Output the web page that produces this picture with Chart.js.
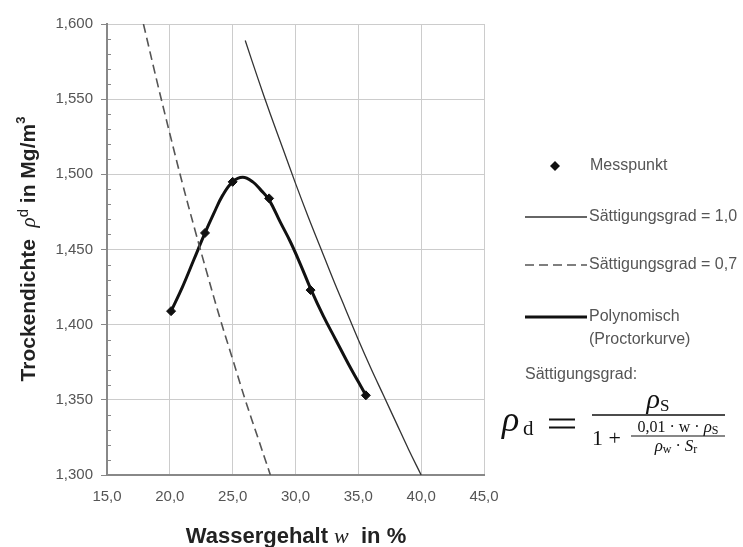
<!DOCTYPE html>
<html>
<head>
<meta charset="utf-8">
<script src="https://cdn.jsdelivr.net/npm/chart.js@4.4.0/dist/chart.umd.min.js"></script>
<style>
  body { margin: 0; background: #fff; }
  canvas { display: block; }
</style>
</head>
<body>
<canvas id="chart" width="743" height="547"></canvas>
<script>
// Messwerte (Wassergehalt in %, Trockendichte in Mg/m3)
const messW = [20.1, 22.8, 25.0, 27.9, 31.2, 35.6];
const messRho = [1.409, 1.461, 1.495, 1.484, 1.423, 1.353];

// Sättigungslinie Sr = 1,0
const satt10W = [26, 27, 28, 29, 30, 31, 32, 33, 34, 35, 36, 37, 38, 39, 40];
const satt10Rho = [1.589, 1.564, 1.540, 1.517, 1.494, 1.472, 1.451, 1.430, 1.410, 1.390, 1.371, 1.353, 1.335, 1.317, 1.300];

// Sättigungslinie Sr = 0,7
const satt07W = [17.9, 19, 20, 21, 22, 23, 24, 25, 26, 27, 28];
const satt07Rho = [1.600, 1.561, 1.527, 1.494, 1.463, 1.433, 1.404, 1.377, 1.350, 1.325, 1.300];

// Proctorkurve (Polynom)
const polyW = [20.1, 21.0, 21.9, 22.8, 23.5, 24.2, 25.0, 25.8, 26.6, 27.3, 27.9, 28.8, 29.6, 30.4, 31.2, 32.2, 33.2, 34.2, 35.0, 35.6];
const polyRho = [1.409, 1.425, 1.443, 1.461, 1.474, 1.486, 1.495, 1.498, 1.495, 1.489, 1.483, 1.468, 1.455, 1.440, 1.424, 1.406, 1.390, 1.374, 1.362, 1.353];

const legendLabels = ["Messpunkt", "Sättigungsgrad = 1,0", "Sättigungsgrad = 0,7", "Polynomisch", "(Proctorkurve)"];

function pts(xs, ys) {
  return xs.map((x, i) => ({ x: x, y: ys[i] }));
}

const SANS = "'Liberation Sans', Arial, sans-serif";
const SERIF = "'Liberation Serif', 'DejaVu Serif', serif";

// Text aus mehreren Teilen (verschiedene Schriften) zeichnen
function partsWidth(ctx, parts) {
  let w = 0;
  parts.forEach((p) => { ctx.font = p.font; w += ctx.measureText(p.t).width; });
  return w;
}
function drawParts(ctx, parts, x, y) {
  parts.forEach((p) => {
    ctx.font = p.font;
    ctx.fillText(p.t, x, y + (p.dy || 0));
    x += ctx.measureText(p.t).width;
  });
}
function drawCentered(ctx, parts, cx, y) {
  drawParts(ctx, parts, cx - partsWidth(ctx, parts) / 2, y);
}

const extras = {
  id: "extras",
  afterDraw(chart) {
    const ctx = chart.ctx;
    const y = chart.scales.y;
    ctx.save();

    // kleine Teilstriche an der y-Achse
    ctx.strokeStyle = "#888";
    ctx.lineWidth = 1;
    for (let i = 0; i <= 30; i++) {
      if (i % 5 === 0) continue;
      const py = Math.round(y.getPixelForValue(1.3 + i * 0.01)) + 0.5;
      ctx.beginPath();
      ctx.moveTo(chart.chartArea.left, py);
      ctx.lineTo(chart.chartArea.left + 4, py);
      ctx.stroke();
    }

    // Achsentitel
    ctx.fillStyle = "#222";
    ctx.textBaseline = "alphabetic";
    drawCentered(ctx, [
      { t: "Wassergehalt ", font: "bold 22px " + SANS },
      { t: "w", font: "italic 22px " + SERIF },
      { t: "  in %", font: "bold 22px " + SANS },
    ], 296, 543);

    ctx.save();
    ctx.translate(35, 249);
    ctx.rotate(-Math.PI / 2);
    drawCentered(ctx, [
      { t: "Trockendichte  ", font: "bold 21px " + SANS },
      { t: "ρ", font: "italic 21px " + SERIF },
      { t: "d", font: "15px " + SANS, dy: -7 },
      { t: " in Mg/m", font: "bold 21px " + SANS },
      { t: "3", font: "bold 13px " + SANS, dy: -10 },
    ], 0, 0);
    ctx.restore();

    // Legende
    ctx.fillStyle = "#555";
    ctx.font = "16px " + SANS;
    ctx.textBaseline = "middle";
    ctx.textAlign = "left";

    ctx.save();
    ctx.fillStyle = "#111";
    ctx.beginPath();
    ctx.moveTo(555, 161); ctx.lineTo(560, 166); ctx.lineTo(555, 171); ctx.lineTo(550, 166);
    ctx.closePath();
    ctx.fill();
    ctx.restore();
    ctx.fillText(legendLabels[0], 590, 166);

    function legLine(py, width, color, dash) {
      ctx.save();
      ctx.strokeStyle = color;
      ctx.lineWidth = width;
      ctx.setLineDash(dash);
      ctx.beginPath();
      ctx.moveTo(525, py);
      ctx.lineTo(587, py);
      ctx.stroke();
      ctx.restore();
    }
    legLine(217, 1.3, "#333", []);
    ctx.fillText(legendLabels[1], 589, 217);
    legLine(265, 1.6, "#555", [9, 5]);
    ctx.fillText(legendLabels[2], 589, 265);
    legLine(317, 3, "#111", []);
    ctx.fillText(legendLabels[3], 589, 317);
    ctx.fillText(legendLabels[4], 589, 340);
    ctx.fillText("Sättigungsgrad:", 525, 375);

    // Formel
    ctx.fillStyle = "#111";
    ctx.textBaseline = "alphabetic";
    ctx.font = "italic 36px " + SERIF;
    ctx.fillText("ρ", 502, 431);
    ctx.font = "21px " + SERIF;
    ctx.fillText("d", 523, 435);

    ctx.strokeStyle = "#111";
    ctx.lineWidth = 2.2;
    ctx.beginPath();
    ctx.moveTo(549, 419.5); ctx.lineTo(575, 419.5);
    ctx.moveTo(549, 427.5); ctx.lineTo(575, 427.5);
    ctx.stroke();

    ctx.lineWidth = 1.4;
    ctx.beginPath(); ctx.moveTo(592, 415); ctx.lineTo(725, 415); ctx.stroke();
    drawCentered(ctx, [
      { t: "ρ", font: "italic 28px " + SERIF },
      { t: "S", font: "17px " + SERIF, dy: 3 },
    ], 658, 408);

    ctx.font = "22px " + SERIF;
    ctx.fillText("1 +", 592, 445);
    ctx.lineWidth = 1.1;
    ctx.beginPath(); ctx.moveTo(631, 436); ctx.lineTo(725, 436); ctx.stroke();
    drawCentered(ctx, [
      { t: "0,01 · ", font: "16px " + SERIF },
      { t: "w", font: "16px " + SERIF },
      { t: " · ", font: "16px " + SERIF },
      { t: "ρ", font: "italic 17px " + SERIF },
      { t: "S", font: "12px " + SERIF, dy: 2 },
    ], 678, 432);
    drawCentered(ctx, [
      { t: "ρ", font: "italic 17px " + SERIF },
      { t: "w", font: "12px " + SERIF, dy: 2 },
      { t: " · ", font: "16px " + SERIF },
      { t: "S", font: "italic 17px " + SERIF },
      { t: "r", font: "12px " + SERIF, dy: 2 },
    ], 676, 451);

    ctx.restore();
  },
};

const tickFont = { family: SANS, size: 15 };

new Chart(document.getElementById("chart"), {
  type: "scatter",
  data: {
    datasets: [
      {
        label: legendLabels[0],
        data: pts(messW, messRho),
        pointStyle: "rectRot",
        pointRadius: 4.5,
        backgroundColor: "#111",
        borderColor: "#111",
        showLine: false,
      },
      {
        label: legendLabels[1],
        data: pts(satt10W, satt10Rho),
        showLine: true,
        borderColor: "#333",
        borderWidth: 1.3,
        pointRadius: 0,
        tension: 0.4,
      },
      {
        label: legendLabels[2],
        data: pts(satt07W, satt07Rho),
        showLine: true,
        borderColor: "#555",
        borderWidth: 1.6,
        borderDash: [9, 5],
        pointRadius: 0,
        tension: 0.4,
      },
      {
        label: legendLabels[3],
        data: pts(polyW, polyRho),
        showLine: true,
        borderColor: "#111",
        borderWidth: 3,
        pointRadius: 0,
        tension: 0.4,
      },
    ],
  },
  options: {
    responsive: false,
    animation: false,
    layout: { padding: { left: 0, right: 259, top: 24, bottom: 0 } },
    plugins: { legend: { display: false }, tooltip: { enabled: false } },
    scales: {
      x: {
        type: "linear",
        min: 15,
        max: 45,
        ticks: {
          stepSize: 5,
          maxRotation: 0,
          padding: 13,
          color: "#555",
          font: tickFont,
          callback: (v) => v.toFixed(1).replace(".", ","),
        },
        grid: { color: "#ccc", drawTicks: false },
        border: { color: "#888", width: 2 },
        afterFit(s) { s.height = 72; },
      },
      y: {
        min: 1.3,
        max: 1.6,
        ticks: {
          stepSize: 0.05,
          padding: 8,
          color: "#555",
          font: tickFont,
          callback: (v) => v.toFixed(3).replace(".", ","),
        },
        grid: { color: "#ccc", tickLength: 6, tickColor: "#888" },
        border: { color: "#888", width: 2 },
        afterFit(s) { s.width = 107; },
      },
    },
  },
  plugins: [extras],
});
</script>
</body>
</html>
